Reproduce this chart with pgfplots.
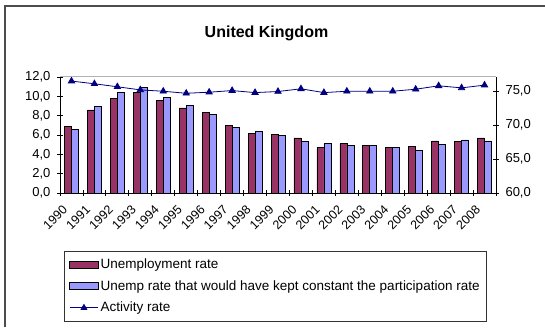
\documentclass[border=0pt]{standalone}
\usepackage{pgfplots}
\pgfplotsset{compat=1.18}
\usepackage{fontspec}
\setmainfont{Liberation Sans}
\definecolor{unemp}{HTML}{993366}
\definecolor{alt}{HTML}{9999FF}
\definecolor{act}{HTML}{000080}

\begin{document}
\begin{tikzpicture}[x=1pt,y=1pt]
\path[use as bounding box] (0,0) rectangle (545,327);
\draw[line width=1.6pt, black!70] (5,0) -- (5,321) -- (545,321);
\node[font=\bfseries\fontsize{16}{18}\selectfont] at (266.5,293.5) {United Kingdom};
\draw[line width=1.5pt, black!30] (60,250.3) -- (496,250.3);

\begin{axis}[
  at={(60pt,134pt)}, anchor=south west, scale only axis,
  width=436pt, height=116pt,
  xmin=-0.5, xmax=18.5, ymin=0, ymax=12,
  axis y line*=left, axis x line*=bottom,
  axis line style={black, line width=0.8pt},
  ybar=0pt, bar width=7pt,
  xtick={-0.5,0.5,...,18.5}, xticklabels={},
  extra x ticks={0,...,18},
  extra x tick labels={1990,1991,1992,1993,1994,1995,1996,1997,1998,1999,2000,2001,2002,2003,2004,2005,2006,2007,2008},
  extra x tick style={major tick length=0pt, tick label style={xshift=-4pt, yshift=-12pt, rotate=45, anchor=east, font=\fontsize{12.5}{13}\selectfont}},
  ytick={0,2,...,12},
  tick align=center, major tick length=6pt,
  tick style={black, line width=0.8pt},
  yticklabel style={font=\fontsize{13}{14}\selectfont, xshift=-3pt},
  /pgf/number format/.cd, fixed, fixed zerofill, precision=1, use comma, assume math mode=true,
  /pgfplots/.cd,
  legend style={at={(0.0092,-0.5)}, anchor=north west, draw=black!80, line width=0.6pt,
    font=\fontsize{13.5}{15}\selectfont, inner xsep=5pt, inner ysep=5.5pt, row sep=6.4pt,
    cells={anchor=west}, /tikz/every even column/.append style={column sep=3pt}},
  legend cell align=left,
  clip=false,
]
\addplot[fill=unemp, draw=black, line width=0.6pt,
  legend image code/.code={\draw[fill=unemp, draw=black, line width=0.6pt] (0pt,-3.5pt) rectangle (28.5pt,3.5pt);}]
  coordinates {(0,6.9) (1,8.6) (2,9.8) (3,10.4) (4,9.6) (5,8.8) (6,8.3) (7,7.0) (8,6.2) (9,6.1) (10,5.7) (11,4.7) (12,5.1) (13,4.9) (14,4.7) (15,4.8) (16,5.4) (17,5.3) (18,5.7)};
\addlegendentry{Unemployment rate}
\addplot[fill=alt, draw=black, line width=0.6pt,
  legend image code/.code={\draw[fill=alt, draw=black, line width=0.6pt] (0pt,-3.5pt) rectangle (28.5pt,3.5pt);}]
  coordinates {(0,6.6) (1,9.0) (2,10.4) (3,10.9) (4,9.9) (5,9.1) (6,8.1) (7,6.8) (8,6.4) (9,6.0) (10,5.3) (11,5.1) (12,4.9) (13,4.9) (14,4.7) (15,4.4) (16,5.0) (17,5.5) (18,5.4)};
\addlegendentry{Unemp rate that would have kept constant the participation rate}
\addlegendimage{legend image code/.code={\draw[act, line width=0.8pt] (0pt,0pt) -- (28.5pt,0pt); \fill[act] (14.25pt,0pt) ++(90:3.5pt) -- ++(-120:6pt) -- ++(0:6pt) -- cycle;}}
\addlegendentry{Activity rate}
\end{axis}

\begin{axis}[
  at={(60pt,134pt)}, anchor=south west, scale only axis,
  width=436pt, height=116pt,
  xmin=-0.5, xmax=18.5, ymin=60, ymax=77.1,
  axis y line*=right, axis x line=none,
  axis line style={black, line width=0.8pt},
  ytick={60,65,70,75},
  tick align=center, major tick length=6pt,
  tick style={black, line width=0.8pt},
  yticklabel style={font=\fontsize{13}{14}\selectfont, xshift=3pt},
  /pgf/number format/.cd, fixed, fixed zerofill, precision=1, use comma, assume math mode=true,
  /pgfplots/.cd,
  clip=false,
]
\addplot[act, line width=0.8pt, mark=triangle*, mark size=3.6pt, mark options={solid, fill=act}]
  coordinates {(0,76.5) (1,76.1) (2,75.66) (3,75.2) (4,75.0) (5,74.7) (6,74.86) (7,75.1) (8,74.8) (9,74.96) (10,75.36) (11,74.8) (12,75.0) (13,75.0) (14,75.0) (15,75.3) (16,75.8) (17,75.5) (18,75.9)};
\end{axis}
\end{tikzpicture}
\end{document}
